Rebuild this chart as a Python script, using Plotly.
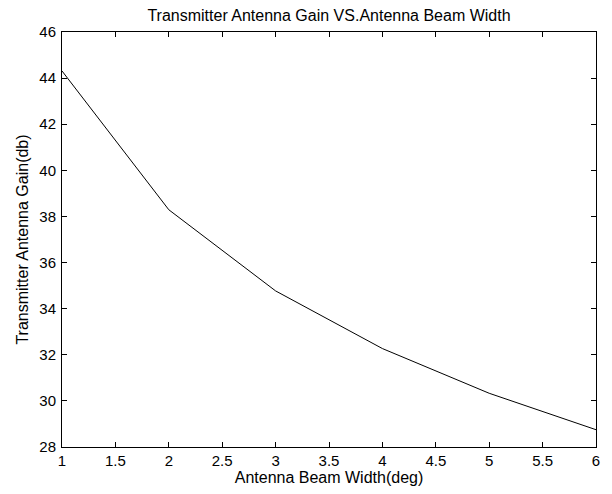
import plotly.graph_objects as go

beam_width_deg = [1, 2, 3, 4, 5, 6]
gain_db = [44.31, 38.29, 34.77, 32.27, 30.33, 28.75]

x_ticks = [1, 1.5, 2, 2.5, 3, 3.5, 4, 4.5, 5, 5.5, 6]
x_tick_text = ["1", "1.5", "2", "2.5", "3", "3.5", "4", "4.5", "5", "5.5", "6"]
y_ticks = [28, 30, 32, 34, 36, 38, 40, 42, 44, 46]

font_family = "Liberation Sans, Arial, sans-serif"

fig = go.Figure()
fig.add_trace(go.Scatter(
    x=beam_width_deg, y=gain_db, mode="lines",
    line=dict(color="black", width=1), showlegend=False,
))

axis_common = dict(
    showline=True, linecolor="black", linewidth=1, mirror="ticks",
    ticks="inside", ticklen=5, tickcolor="black", tickwidth=1,
    showgrid=False, zeroline=False,
    tickfont=dict(family=font_family, size=15, color="black"),
)

fig.update_layout(
    width=612, height=494,
    margin=dict(l=62, r=13, t=32, b=47),
    paper_bgcolor="white", plot_bgcolor="white",
    font=dict(family=font_family, size=15, color="black"),
    title=dict(text="Transmitter Antenna Gain VS.Antenna Beam Width",
               x=329 / 612, xanchor="center", y=1 - 15 / 494, yanchor="middle",
               font=dict(family=font_family, size=16, color="black")),
    xaxis=dict(range=[1, 6], tickvals=x_ticks, ticktext=x_tick_text,
               title=dict(text="Antenna Beam Width(deg)", standoff=0,
                          font=dict(family=font_family, size=16)),
               ticklabelstandoff=0,
               **axis_common),
    yaxis=dict(range=[28, 46], tickvals=y_ticks,
               title=dict(text="Transmitter Antenna Gain(db)", standoff=6,
                          font=dict(family=font_family, size=16)),
               ticklabelstandoff=2,
               **axis_common),
)

fig.write_html("out.html")
